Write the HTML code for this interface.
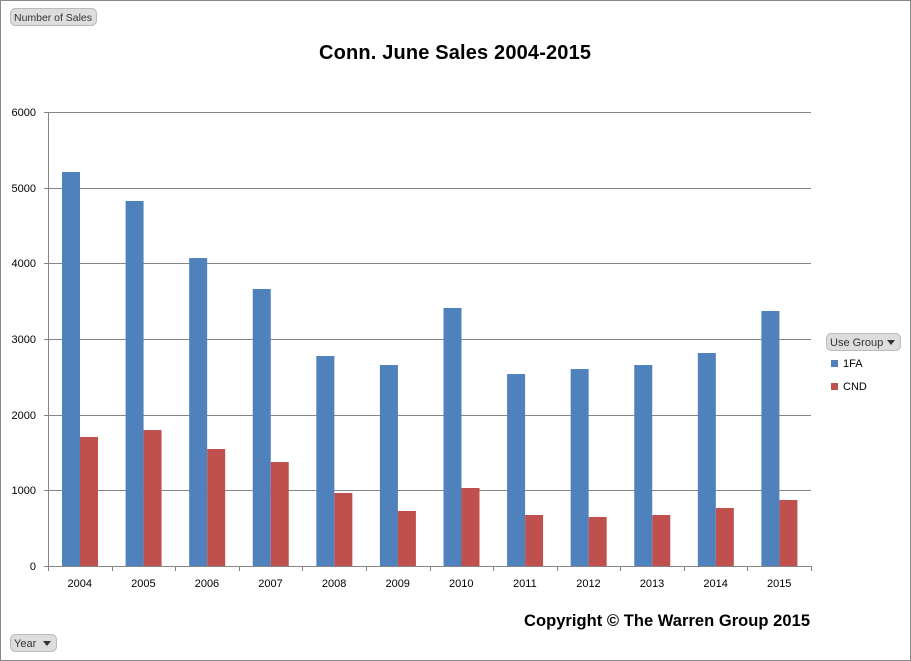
<!DOCTYPE html>
<html><head><meta charset="utf-8"><style>
body{margin:0;background:#fff}
svg{display:block;font-family:"Liberation Sans",sans-serif}
</style></head><body>
<svg width="911" height="661" xmlns="http://www.w3.org/2000/svg">
<rect x="0.5" y="0.5" width="910" height="660" fill="#fff" stroke="#888"/>
<rect x="10.5" y="8.5" width="86" height="17" rx="5" fill="#ddd" stroke="#bbb"/>
<text x="14" y="21" font-size="10.5" fill="#333" textLength="78">Number of Sales</text>
<text x="455" y="59" font-size="20" font-weight="bold" text-anchor="middle" textLength="272">Conn. June Sales 2004-2015</text>
<g stroke="#868686" stroke-width="1">
<line x1="44" y1="112.5" x2="811" y2="112.5"/>
<line x1="44" y1="188.5" x2="811" y2="188.5"/>
<line x1="44" y1="263.5" x2="811" y2="263.5"/>
<line x1="44" y1="339.5" x2="811" y2="339.5"/>
<line x1="44" y1="415.5" x2="811" y2="415.5"/>
<line x1="44" y1="490.5" x2="811" y2="490.5"/>
<line x1="44" y1="566.5" x2="811" y2="566.5"/>
<line x1="48.5" y1="112" x2="48.5" y2="566"/>
</g>
<g font-size="11" text-anchor="end" fill="#000">
<text x="36" y="116">6000</text><text x="36" y="192">5000</text><text x="36" y="267">4000</text>
<text x="36" y="343">3000</text><text x="36" y="419">2000</text><text x="36" y="494">1000</text><text x="36" y="570">0</text>
</g>
<g id="bars"></g>
<g id="ticks" stroke="#868686"></g>
<g id="labels" font-size="11" text-anchor="middle"></g>
<rect x="826.5" y="333.5" width="74" height="17" rx="5" fill="#ddd" stroke="#bbb"/>
<text x="830" y="346" font-size="11" fill="#333">Use Group</text>
<polygon points="887,340 895,340 891,345" fill="#333"/>
<rect x="831" y="360" width="7" height="7" fill="#4F81BD"/>
<text x="843" y="367" font-size="11">1FA</text>
<rect x="831" y="383" width="7" height="7" fill="#C0504D"/>
<text x="843" y="390" font-size="11">CND</text>
<text x="810" y="626" font-size="16.5" font-weight="bold" text-anchor="end" textLength="286">Copyright © The Warren Group 2015</text>
<rect x="10.5" y="634.5" width="46" height="17" rx="5" fill="#ddd" stroke="#bbb"/>
<text x="14" y="647" font-size="11" fill="#333">Year</text>
<polygon points="43,641 51,641 47,646" fill="#333"/>
</svg>
<script>
var b=[5207,4824,4070,3661,2775,2656,3410,2537,2603,2656,2815,3370];
var r=[1705,1797,1546,1374,965,727,1031,674,648,674,766,872];
var s=454/6000,w=763/12,bars='',t='',l='';
for(var i=0;i<12;i++){var x=48+w*i;
bars+='<rect x="'+(x+14)+'" y="'+(566-b[i]*s)+'" width="18" height="'+(b[i]*s)+'" fill="#4F81BD"/>';
bars+='<rect x="'+(x+32)+'" y="'+(566-r[i]*s)+'" width="18" height="'+(r[i]*s)+'" fill="#C0504D"/>';
var tx=Math.round(x+w)+0.5;t+='<line x1="'+tx+'" y1="566" x2="'+tx+'" y2="571"/>';
l+='<text x="'+(x+w/2)+'" y="587">'+(2004+i)+'</text>';}
t+='<line x1="48.5" y1="566" x2="48.5" y2="571"/>';
document.getElementById('bars').innerHTML=bars;
document.getElementById('ticks').innerHTML=t;
document.getElementById('labels').innerHTML=l;
</script>
</body></html>
